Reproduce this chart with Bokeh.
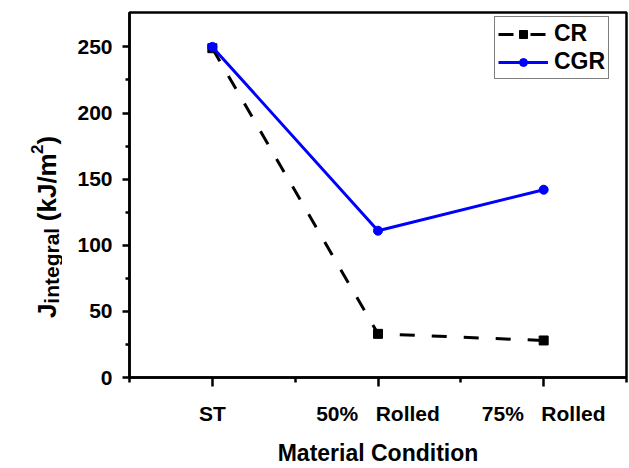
import math
from bokeh.plotting import figure
from bokeh.layouts import row
from bokeh.models import Range1d, FixedTicker, Label, Legend, LegendItem
from bokeh.embed import file_html
from bokeh.resources import INLINE

# ---- data ----
conditions = ["ST", "50%\u00a0\u00a0\u00a0Rolled", "75%\u00a0\u00a0\u00a0Rolled"]
positions = [1, 2, 3]
cr_values = [249, 33, 28]
cgr_values = [250, 111, 142]
y_ticks = [0, 50, 100, 150, 200, 250]
y_minor_ticks = [25, 75, 125, 175, 225]
x_minor_ticks = [0.5, 1.5, 2.5, 3.5]

FONT = "Liberation Sans"
W, H = 629, 468
SIDE = 62                    # width of the strip holding the y-axis title
FL, FR, FT, FB = 129, 626, 12, 380  # frame edges in page pixels

# ---- strip with the composite y-axis title (pixel coordinates, y from bottom) ----
side = figure(width=SIDE, height=H, output_backend="svg", toolbar_location=None,
              x_range=Range1d(0, SIDE), y_range=Range1d(H - FB, H - FT),
              min_border_left=0, min_border_right=0,
              min_border_top=FT, min_border_bottom=H - FB,
              x_axis_type=None, y_axis_type=None)
side.grid.visible = False
side.outline_line_color = None
side.background_fill_color = "white"
side.border_fill_color = "white"

label_style = dict(angle=math.pi / 2, text_font=FONT, text_font_style="bold",
                   text_color="black", text_align="left", text_baseline="alphabetic")
pieces = [("J", 26, 0), ("integral", 21, 5), ("\u00a0(kJ/m", 26, 0), ("2", 17, -10), (")", 26, 0)]
widths = {"J": 0.556, "integral": 3.612, "\u00a0(kJ/m": 2.89, "2": 0.556, ")": 0.333}
base_x = 46
cur_y = 320
for txt, size, shift in pieces:
    side.add_layout(Label(x=base_x + shift, y=H - cur_y, text=txt,
                          text_font_size=f"{size}px", **label_style))
    cur_y -= widths[txt] * size

# ---- main chart ----
p = figure(width=W - SIDE, height=H, output_backend="svg", toolbar_location=None,
           x_range=Range1d(0.5, 3.5), y_range=Range1d(0, 276),
           min_border_left=FL - SIDE, min_border_right=W - FR, min_border_top=FT,
           min_border_bottom=H - FB)
p.grid.visible = False
p.background_fill_color = "white"
p.border_fill_color = "white"
p.outline_line_color = "black"
p.outline_line_width = 2.5

cr_line = p.line(positions, cr_values, line_color="black", line_width=3, line_dash="15 17")
cr_pts = p.scatter(positions, cr_values, marker="square", size=9, color="black")
cgr_line = p.line(positions, cgr_values, line_color="#0000ff", line_width=3)
cgr_pts = p.scatter(positions, cgr_values, marker="circle", size=9, color="#0000ff")

for ax in (p.xaxis[0], p.yaxis[0]):
    ax.axis_line_width = 2.5
    ax.major_tick_line_width = 2.5
    ax.minor_tick_line_width = 2.5
    ax.major_tick_in = 0
    ax.minor_tick_in = 0
    ax.major_label_text_font = FONT
    ax.major_label_text_font_style = "bold"
    ax.major_label_text_font_size = "21px"
    ax.major_label_text_color = "black"

p.xaxis.ticker = FixedTicker(ticks=positions, minor_ticks=x_minor_ticks)
p.xaxis.major_label_overrides = dict(zip(positions, conditions))
p.xaxis.major_tick_out = 9
p.xaxis.minor_tick_out = 5
p.xaxis.major_label_standoff = 15
p.xaxis.axis_label = "Material Condition"
p.xaxis.axis_label_text_font = FONT
p.xaxis.axis_label_text_font_style = "bold"
p.xaxis.axis_label_text_font_size = "23px"
p.xaxis.axis_label_text_color = "black"
p.xaxis.axis_label_standoff = 12

p.yaxis.ticker = FixedTicker(ticks=y_ticks, minor_ticks=y_minor_ticks)
p.yaxis.major_tick_out = 7
p.yaxis.minor_tick_out = 4
p.yaxis.major_label_standoff = 10

legend = Legend(items=[LegendItem(label="CR", renderers=[cr_line, cr_pts]),
                       LegendItem(label="CGR", renderers=[cgr_line, cgr_pts])],
                location=(494 - FL, FB - 82))
legend.label_text_font = FONT
legend.label_text_font_style = "bold"
legend.label_text_font_size = "23px"
legend.label_text_color = "black"
legend.glyph_width = 50
legend.glyph_height = 20
legend.label_standoff = 6
legend.padding = 3
legend.spacing = 1
legend.margin = 0
legend.border_line_color = "black"
legend.border_line_width = 1.5
legend.background_fill_alpha = 1
p.add_layout(legend)

layout = row(side, p, spacing=0)
open("out.html", "w").write(file_html(layout, INLINE))
